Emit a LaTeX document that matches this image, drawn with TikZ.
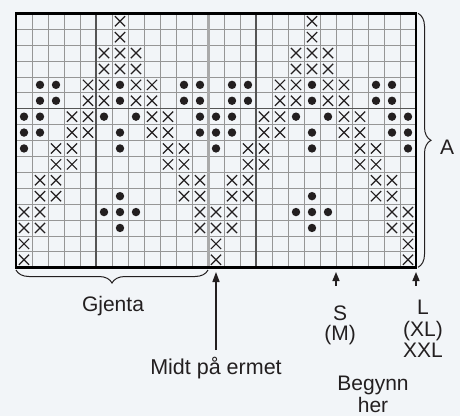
\documentclass[tikz,border=0pt]{standalone}
\usepackage{fontspec}
\setmainfont{Liberation Sans}
\usetikzlibrary{shapes.misc,arrows.meta,decorations.pathreplacing}
\definecolor{bakgrunn}{RGB}{242,245,248}
\definecolor{rute}{RGB}{150,150,150}
\definecolor{tiende}{RGB}{85,85,85}
\definecolor{midtgraa}{RGB}{170,170,170}
\definecolor{tekst}{RGB}{35,31,32}

\begin{document}
\begin{tikzpicture}[x=1pt,y=-1pt,
	tynn/.style={rute,line width=0.8pt},
	tykk/.style={tiende,line width=1.5pt},
	kryss/.style={draw=tekst,cross out,line width=1.2pt,minimum size=9pt,inner sep=0pt},
	prikk/.style={circle,fill=tekst,minimum size=8.4pt,inner sep=0pt},
	etikett/.style={text=tekst,font=\fontsize{21}{21}\selectfont,inner sep=0pt},
	pil/.style={draw=tekst,line width=1.5pt,-{Triangle[length=10pt,width=7pt]}},
	kortpil/.style={draw=tekst,line width=1.5pt,-{Triangle[length=9pt,width=7pt]}},
	klamme/.style={draw=tekst,line width=1pt,decorate,decoration={brace,amplitude=13pt}}]
	\useasboundingbox (0,0) rectangle (460,416);
	\fill[bakgrunn] (0,0) rectangle (460,416);
	\begin{scope}[shift={(16,13.3)},x=16pt,y=-15.9pt]
	\foreach \c in {1,...,24} \draw[tynn] (\c,0) -- (\c,16);
	\foreach \r in {1,...,15} \draw[tynn] (0,\r) -- (25,\r);
	\draw[tykk] (5,0) -- (5,16) (15,0) -- (15,16) (0,6) -- (25,6);
	\draw[midtgraa,line width=3pt] (12,0) -- (12,16);
	\foreach \r/\cs in {1/{7,19},2/{7,19},3/{6,7,8,18,19,20},4/{6,7,8,18,19,20},
		5/{5,6,8,9,17,18,20,21},6/{5,6,8,9,17,18,20,21},7/{4,5,9,10,16,17,21,22},
		8/{4,5,9,10,16,17,21,22},9/{3,4,10,11,15,16,22,23},10/{3,4,10,11,15,16,22,23},
		11/{2,3,11,12,14,15,23,24},12/{2,3,11,12,14,15,23,24},13/{1,2,12,13,14,24,25},
		14/{1,2,12,13,14,24,25},15/{1,13,25},16/{1,13,25}}
		\foreach \c in \cs \node (k-\c-\r) at (\c-0.5,\r-0.5) [kryss] {};
	\foreach \r/\cs in {5/{2,3,7,11,12,14,15,19,23,24},6/{2,3,7,11,12,14,15,19,23,24},
		7/{1,2,6,8,12,13,14,18,20,24,25},8/{1,2,7,12,13,14,19,24,25},9/{1,7,13,19,25},
		12/{7,19},13/{6,7,8,18,19,20},14/{7,19}}
		\foreach \c in \cs \node (p-\c-\r) at (\c-0.5,\r-0.5) [prikk] {};
	\draw[black,line width=2.6pt] (0,0) rectangle (25,16);
	\end{scope}
	\coordinate (gjh) at (208,270);
	\coordinate (gjv) at (16,270);
	\coordinate (atopp) at (418,13.3);
	\coordinate (abunn) at (418,267.3);
	\draw[klamme] (gjh) -- (gjv);
	\draw[klamme] (atopp) -- (abunn);
	\node (gjenta) at (113,311.5) [etikett,anchor=base] {Gjenta};
	\node (a) at (447,154.5) [etikett,anchor=base] {A};
	\coordinate (midtfot) at (216,350);
	\coordinate (midtpil) at (216,272);
	\draw[pil] (midtfot) -- (midtpil);
	\node (midt) at (216,374) [etikett,anchor=base,font=\fontsize{21.5}{21.5}\selectfont] {Midt på ermet};
	\coordinate (sfot) at (336,286);
	\coordinate (spil) at (336,272);
	\draw[kortpil] (sfot) -- (spil);
	\coordinate (lfot) at (416,286);
	\coordinate (lpil) at (416,272);
	\draw[kortpil] (lfot) -- (lpil);
	\node (s) at (340,320) [etikett,anchor=base] {S};
	\node (m) at (340,340.5) [etikett,anchor=base] {(M)};
	\node (l) at (423,314.5) [etikett,anchor=base] {L};
	\node (xl) at (423,336) [etikett,anchor=base] {(XL)};
	\node (xxl) at (423,357) [etikett,anchor=base] {XXL};
	\node (begynn) at (373,390.5) [etikett,anchor=base] {Begynn};
	\node (her) at (373,412.5) [etikett,anchor=base] {her};
\end{tikzpicture}
\end{document}
